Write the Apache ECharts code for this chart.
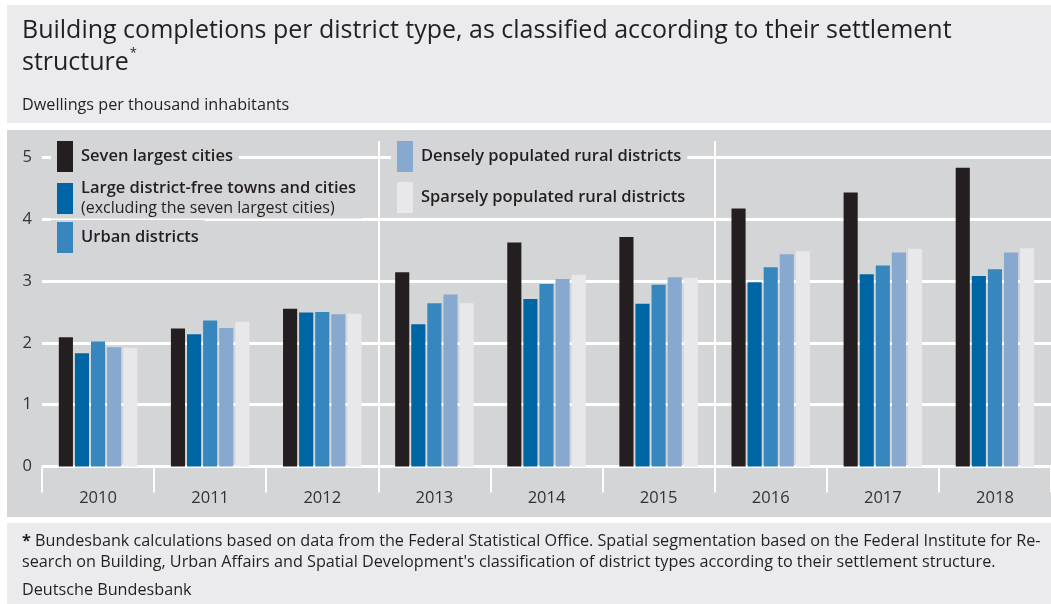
<!DOCTYPE html>
<html>
<head>
<meta charset="utf-8">
<title>Building completions per district type</title>
<script src="https://cdn.jsdelivr.net/npm/echarts@6/dist/echarts.min.js"></script>
<style>
html, body { margin: 0; padding: 0; background: #fff; }
#chart { width: 1051px; height: 604px; }
</style>
</head>
<body>
<div id="chart"></div>
<script>
// dwellings per thousand inhabitants
var years = ['2010', '2011', '2012', '2013', '2014', '2015', '2016', '2017', '2018']
var sevenLargest = [2.09, 2.23, 2.55, 3.14, 3.62, 3.71, 4.17, 4.43, 4.83]
var largeTowns = [1.83, 2.14, 2.49, 2.30, 2.71, 2.63, 2.98, 3.11, 3.08]
var urbanDistricts = [2.02, 2.36, 2.50, 2.64, 2.95, 2.94, 3.22, 3.25, 3.19]
var denseRural = [1.93, 2.24, 2.46, 2.78, 3.03, 3.06, 3.43, 3.46, 3.46]
var sparseRural = [1.92, 2.34, 2.47, 2.64, 3.10, 3.05, 3.48, 3.52, 3.53]
// three-year blocks, only used for the white divider lines
var periods = ['2010-2012', '2013-2015', '2016-2018']

var names = [
  'Seven largest cities',
  'Large district-free towns and cities',
  'Urban districts',
  'Densely populated rural districts',
  'Sparsely populated rural districts'
]
var colors = ['#231f20', '#0065a4', '#3787be', '#87a9d0', '#e8e8ea']
var values = [sevenLargest, largeTowns, urbanDistricts, denseRural, sparseRural]

var font = 'Open Sans'
var panel = '#d4d5d7'
var light = '#ebebed'

var myChart = echarts.init(document.getElementById('chart'))

var series = []
for (var i = 0; i < names.length; i++) {
  series.push({
    name: names[i],
    type: 'bar',
    xAxisIndex: 0,
    barGap: '14%',
    barCategoryGap: '30%',
    itemStyle: { color: colors[i] },
    data: values[i]
  })
}

function legendItem (name, left, top, formatter) {
  var l = {
    data: [name],
    left: left,
    top: top,
    orient: 'vertical',
    icon: 'rect',
    itemWidth: 16,
    itemHeight: 31,
    itemGap: 0,
    padding: [2, 6, 2, 6],
    backgroundColor: panel,
    selectedMode: false,
    textStyle: {
      fontFamily: font,
      fontSize: 16.5,
      fontWeight: 600,
      color: '#231f20',
      padding: [0, 0, 0, 3],
      rich: {
        a: { fontFamily: font, fontSize: 16.5, fontWeight: 600, color: '#231f20', lineHeight: 20 },
        b: { fontFamily: font, fontSize: 16, fontWeight: 'normal', color: '#231f20', lineHeight: 20 }
      }
    }
  }
  if (formatter) l.formatter = formatter
  return l
}

var option = {
  animation: false,
  graphic: [
    { type: 'rect', z: -10, shape: { x: 7, y: 5, width: 1044, height: 118 }, style: { fill: light } },
    { type: 'rect', z: -10, shape: { x: 7, y: 130, width: 1044, height: 387 }, style: { fill: panel } },
    { type: 'rect', z: -10, shape: { x: 7, y: 523, width: 1044, height: 81 }, style: { fill: light } },
    {
      type: 'text', left: 22, top: 15,
      style: {
        text: 'Building completions per district type, as classified according to their settlement\nstructure{s|*}',
        fill: '#231f20', font: '25px ' + font, lineHeight: 32,
        rich: { s: { fontSize: 13, fontFamily: font, verticalAlign: 'top', lineHeight: 32, padding: [0, 0, 8, 1] } }
      }
    },
    {
      type: 'text', left: 22, top: 97,
      style: { text: 'Dwellings per thousand inhabitants', fill: '#231f20', font: '16.2px ' + font }
    },
    {
      type: 'text', left: 22, top: 531,
      style: {
        text: '{b|*} Bundesbank calculations based on data from the Federal Statistical Office. Spatial segmentation based on the Federal Institute for Re-\nsearch on Building, Urban Affairs and Spatial Development\'s classification of district types according to their settlement structure.',
        fill: '#231f20', font: '16.2px ' + font, lineHeight: 21,
        rich: { b: { fontWeight: 'bold', fontFamily: font, fontSize: 16.2 } }
      }
    },
    {
      type: 'text', left: 22, top: 582,
      style: { text: 'Deutsche Bundesbank', fill: '#231f20', font: '16.2px ' + font }
    }
  ],
  legend: [
    legendItem(names[0], 51, 139),
    legendItem(names[1], 51, 178, '{a|Large district-free towns and cities}\n{b|(excluding the seven largest cities)}'),
    legendItem(names[2], 51, 220),
    legendItem(names[3], 391, 139),
    legendItem(names[4], 391, 180)
  ],
  grid: { left: 42, right: 0, top: 141, bottom: 137.5, containLabel: false },
  xAxis: [
    {
      type: 'category',
      position: 'bottom',
      data: years,
      boundaryGap: true,
      offset: 12,
      axisLine: { show: false },
      axisTick: { show: true, interval: 0, length: 26, lineStyle: { color: '#fff', width: 2 } },
      axisLabel: { margin: 11, fontFamily: font, fontSize: 16.5, color: '#333' },
      splitLine: { show: false }
    },
    {
      type: 'category',
      position: 'bottom',
      data: periods,
      boundaryGap: true,
      axisLine: { show: false },
      axisLabel: { show: false },
      axisTick: {
        show: true,
        length: 12,
        interval: function (index) { return index > 0 },
        lineStyle: { color: '#fff', width: 2 }
      },
      splitLine: {
        show: true,
        interval: 0,
        showMinLine: false,
        showMaxLine: false,
        lineStyle: { color: '#fff', width: 2 }
      }
    }
  ],
  yAxis: {
    type: 'value',
    min: 0,
    max: 5.263,
    interval: 1,
    axisLine: { show: false },
    axisTick: { show: false },
    axisLabel: { showMaxLabel: false, margin: 10, fontFamily: font, fontSize: 16.5, color: '#333' },
    splitLine: { showMaxLine: false, lineStyle: { color: '#fff', width: 3 } }
  },
  series: series
}

myChart.setOption(option)
</script>
</body>
</html>
